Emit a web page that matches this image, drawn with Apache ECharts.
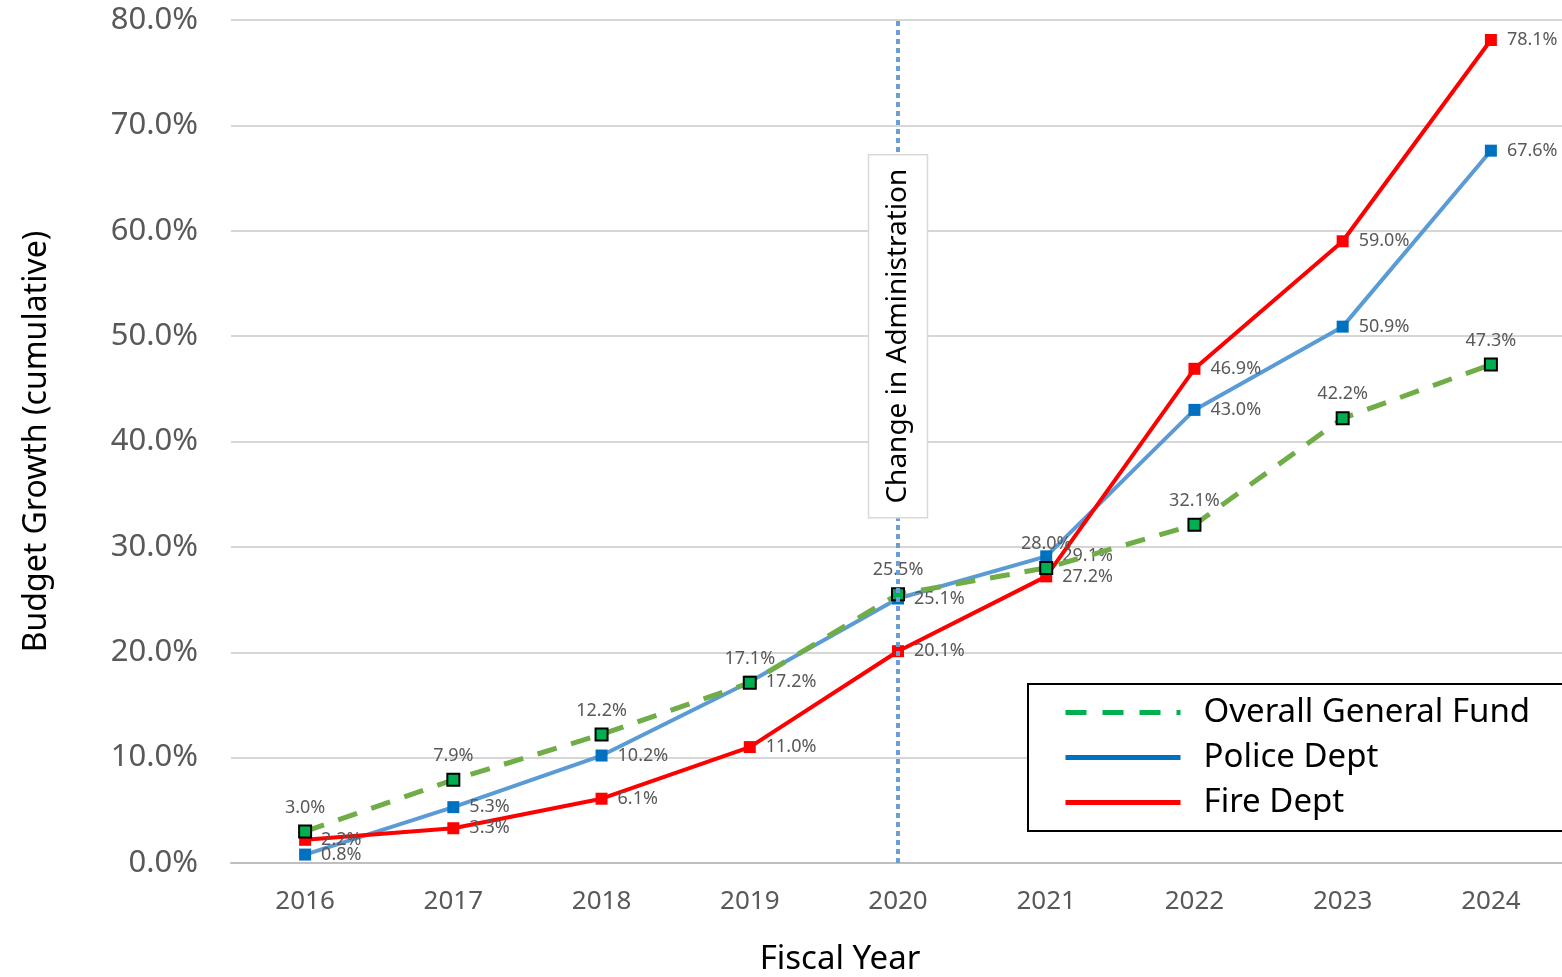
<!DOCTYPE html>
<html>
<head>
<meta charset="utf-8">
<script src="https://cdn.jsdelivr.net/npm/echarts@6/dist/echarts.min.js"></script>
<style>
html,body{margin:0;padding:0;background:#fff;overflow:hidden;}
#chart{width:1562px;height:977px;}
</style>
</head>
<body>
<div id="chart"></div>
<script>
const years = ['2016','2017','2018','2019','2020','2021','2022','2023','2024'];
const overallFund = [3.0, 7.9, 12.2, 17.1, 25.5, 28.0, 32.1, 42.2, 47.3];
const policeDept = [0.8, 5.3, 10.2, 17.2, 25.1, 29.1, 43.0, 50.9, 67.6];
const fireDept = [2.2, 3.3, 6.1, 11.0, 20.1, 27.2, 46.9, 59.0, 78.1];
const yTicks = [0, 10, 20, 30, 40, 50, 60, 70, 80];
const adminChangeYear = '2020';
const annotationText = 'Change in Administration';

const FONT = '"Noto Sans", "Open Sans", sans-serif';
const labelStyle = {fontFamily: FONT, fontSize: 18, color: '#595959'};
const fmt = p => p.value.toFixed(1) + '%';

const chart = echarts.init(document.getElementById('chart'), null, {renderer: 'canvas', width: 1562, height: 977});
const option = {
  backgroundColor: '#ffffff',
  animation: false,
  grid: {left: 231, top: 20, width: 1334, height: 843, containLabel: false, outerBoundsMode: 'none'},
  xAxis: {
    type: 'category',
    data: years,
    boundaryGap: true,
    name: 'Fiscal Year',
    nameLocation: 'middle',
    nameGap: 80,
    nameTextStyle: {fontFamily: FONT, fontSize: 33, color: '#000', padding: [0, 116, 0, 0]},
    axisLine: {show: true, lineStyle: {color: '#bfbfbf', width: 2}},
    axisTick: {show: false},
    axisLabel: {fontFamily: FONT, fontSize: 26, color: '#595959', margin: 26},
    splitLine: {show: false}
  },
  yAxis: {
    type: 'value',
    min: yTicks[0],
    max: yTicks[yTicks.length - 1],
    interval: 10,
    name: 'Budget Growth (cumulative)',
    nameLocation: 'middle',
    nameRotate: 90,
    nameGap: 178,
    nameTextStyle: {fontFamily: FONT, fontSize: 32, color: '#000'},
    axisLine: {show: false},
    axisTick: {show: false},
    axisLabel: {fontFamily: FONT, fontSize: 31, color: '#595959', margin: 33, formatter: v => v.toFixed(1) + '%'},
    splitLine: {show: true, lineStyle: {color: '#c8c8c8', width: 1.5}}
  },
  legend: {
    orient: 'vertical',
    left: 1028,
    top: 684,
    padding: [12, 80, 12, 35],
    itemGap: 12,
    itemWidth: 115,
    itemHeight: 30,
    backgroundColor: '#fff',
    borderColor: '#000',
    borderWidth: 2,
    borderRadius: 0,
    selectedMode: false,
    textStyle: {fontFamily: FONT, fontSize: 33, color: '#000', padding: [0, 0, 0, 18]},
    data: [
      {name: 'Overall General Fund', itemStyle: {opacity: 0}, lineStyle: {color: '#00b050', width: 5, type: [21, 16]}},
      {name: 'Police Dept', itemStyle: {opacity: 0}, lineStyle: {color: '#0070c0', width: 5, type: 'solid'}},
      {name: 'Fire Dept', itemStyle: {opacity: 0}, lineStyle: {color: '#ff0000', width: 5, type: 'solid'}}
    ]
  },
  series: [
    {
      name: 'Police Dept',
      type: 'line',
      data: policeDept,
      symbol: 'rect',
      symbolSize: 12,
      lineStyle: {color: '#5b9bd5', width: 4},
      itemStyle: {color: '#0070c0', borderWidth: 0},
      label: {show: true, position: 'right', distance: 10, formatter: fmt, ...labelStyle},
      z: 2,
      markLine: {
        silent: true,
        symbol: ['none', 'none'],
        label: {show: false},
        lineStyle: {color: '#6a9fd6', width: 4, type: [5, 4]},
        data: [{xAxis: adminChangeYear}]
      }
    },
    {
      name: 'Fire Dept',
      type: 'line',
      data: fireDept,
      symbol: 'rect',
      symbolSize: 12,
      lineStyle: {color: '#ff0000', width: 4},
      itemStyle: {color: '#ff0000', borderWidth: 0},
      label: {show: true, position: 'right', distance: 10, formatter: fmt, ...labelStyle},
      z: 3
    },
    {
      name: 'Overall General Fund',
      type: 'line',
      data: overallFund,
      symbol: 'rect',
      symbolSize: 12,
      lineStyle: {color: '#70ad47', width: 5, type: [20, 15]},
      itemStyle: {color: '#00b050', borderColor: '#000', borderWidth: 2},
      label: {show: true, position: 'top', distance: 8, formatter: fmt, ...labelStyle},
      z: 4
    }
  ]
};
chart.setOption(option);

const c = chart.convertToPixel({gridIndex: 0}, [adminChangeYear, 50]);
const boxW = 59, boxH = 363;
chart.setOption({
  graphic: [
    {
      type: 'group',
      x: c[0],
      y: c[1],
      zlevel: 2,
      z: 100,
      children: [
        {type: 'rect', shape: {x: -boxW / 2, y: -boxH / 2, width: boxW, height: boxH},
         style: {fill: '#fff', stroke: '#d9d9d9', lineWidth: 1.5}, zlevel: 2, z: 100},
        {type: 'text', x: 0, y: 0, rotation: Math.PI / 2, zlevel: 2, z: 101,
         style: {text: annotationText, fontFamily: FONT, fontSize: 28, fill: '#000',
                 align: 'center', verticalAlign: 'middle'}}
      ]
    }
  ]
});
</script>
</body>
</html>
